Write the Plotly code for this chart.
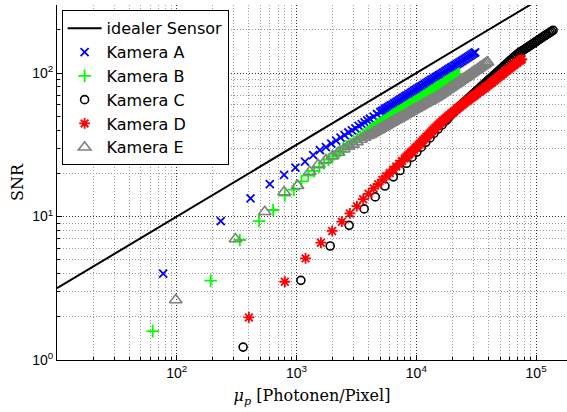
import plotly.graph_objects as go

# ---- data ----
ideal_mu = [10, 200000]
ideal_snr = [3.1623, 447.2]

camA_mu = [77, 233, 413, 598, 787, 978, 1176, 1377, 1567, 1760, 1950, 2140, 2330, 2520,
           2710, 2900, 3100, 3300, 3500, 3700, 3900, 4100, 4400, 4700,
           5000, 5150, 5300, 5460, 5620, 5790, 5960, 6140, 6330, 6520, 6710, 6910, 7120, 7330,
           7550, 7780, 8010, 8250, 8500, 8760, 9020, 9290, 9570, 9860, 10150, 10460, 10770,
           11090, 11430, 11770, 12120, 12490, 12860, 13250, 13640, 14050, 14470, 14910, 15360,
           15820, 16290, 16780, 17280, 17800, 18340, 18890, 19450, 20040, 20640, 21260, 21900,
           22550, 23230, 23920, 24640, 25380, 26140, 26930, 27730, 28570, 29420, 30300, 31000]
camA_snr = [4.0, 9.3, 13.4, 16.8, 19.5, 21.9, 24.1, 26.8, 29.0, 30.4, 32.2, 33.8, 35.5, 36.9,
            38.5, 39.9, 41.2, 42.8, 44.1, 45.3, 46.8, 48.0, 49.7, 51.8,
            53.4, 54.2, 55.0, 55.9, 56.8, 57.6, 58.5, 59.4, 60.3, 61.3, 62.2, 63.2, 64.1, 65.2,
            66.2, 67.3, 68.4, 69.5, 70.5, 71.6, 72.7, 73.9, 75.1, 76.4, 77.6, 78.7, 79.9,
            81.1, 82.3, 83.5, 84.9, 86.3, 87.7, 89.1, 90.4, 91.9, 93.2, 94.6, 96.1,
            97.5, 99.0, 100.7, 102.3, 103.9, 105.6, 107.2, 108.8, 110.4, 112.1, 113.7, 115.4,
            117.3, 119.2, 121.1, 123.1, 125.1, 127.1, 129.1, 131.2, 133.4, 135.5, 137.5, 139.1]

camB_mu = [63, 192, 336, 487, 638, 798, 948, 1100, 1250, 1400, 1550, 1700, 1850, 2000, 2150,
           2300, 2450, 2600, 2800, 3000, 3200, 3400, 3600, 3800,
           4000, 4120, 4240, 4370, 4500, 4640, 4780, 4920, 5070, 5220, 5380, 5540, 5710, 5880,
           6050, 6230, 6420, 6610, 6810, 7020, 7230, 7440, 7670, 7900, 8130, 8380, 8630, 8890,
           9150, 9430, 9710, 10000, 10300, 10610, 10930, 11260, 11600, 11940, 12300, 12670,
           13050, 13440, 13850, 14260, 14690, 15130, 15580, 16050, 16530, 17030, 17540, 18060,
           18610, 19160, 19740, 20330, 20940, 21570, 22220, 22700]
camB_snr = [1.59, 3.57, 6.86, 9.3, 11.1, 14.0, 15.4, 17.6, 19.3, 20.8, 22.2, 23.5, 24.9, 26.2,
            27.4, 28.5, 29.7, 30.8, 32.0, 33.3, 34.6, 35.8, 37.1, 38.3,
            39.3, 40.0, 40.6, 41.4, 42.2, 43.0, 43.7, 44.3, 44.8, 45.6, 46.4, 47.1, 47.9, 48.8,
            49.5, 50.4, 51.3, 52.0, 52.6, 53.6, 54.4, 55.0, 56.0, 56.8, 57.8, 58.7, 59.7, 60.6,
            61.3, 62.3, 63.3, 64.0, 65.0, 66.2, 67.2, 68.3, 69.5, 70.6, 71.7, 72.9,
            74.1, 75.3, 76.5, 77.8, 79.1, 79.9, 81.3, 82.6, 83.9, 85.3, 86.7, 88.0,
            89.3, 90.6, 92.0, 93.3, 94.7, 96.1, 97.5, 98.6]

camC_mu = [358, 1087, 1910, 2750, 3670, 4540, 5470, 6430, 7300, 8300, 9200, 10100, 11000,
           12000, 13000, 14000, 15200, 16400,
           17700, 18230, 18780, 19340, 19920, 20520, 21130, 21770, 22420, 23090, 23790, 24500,
           25240, 25990, 26770, 27580, 28400, 29260, 30130, 31040, 31970, 32930, 33920, 34930,
           35980, 37060, 38170, 39320, 40500, 41710, 42960, 44250, 45580, 46950, 48350, 49800,
           51300, 52840, 54420, 56050, 57740, 59470, 61250, 63090, 64980, 66930, 68940, 71010,
           72400, 74600, 76800, 79100, 81500, 83900, 86400, 89000, 91700, 94400, 97200,
           100100, 103100, 106200, 109400, 112700, 116100, 119600, 123200, 126900, 130700,
           134600, 138600]
camC_snr = [1.23, 3.59, 6.23, 8.68, 11.3, 13.7, 16.3, 18.9, 20.9, 23.5, 25.9, 28.1, 30.4,
            32.9, 35.3, 37.9, 40.7, 43.5,
            46.6, 47.9, 49.3, 50.8, 52.2, 53.4, 54.7, 56.1, 57.3, 58.7, 60.2, 61.5,
            62.9, 64.3, 65.8, 67.3, 68.8, 70.3, 72.0, 73.6, 75.3, 76.9, 78.8, 80.6,
            82.5, 84.3, 86.2, 88.2, 90.2, 92.1, 94.1, 96.3, 98.4, 100.8, 102.9, 105.3,
            107.6, 110.1, 112.4, 115.1, 117.7, 120.5, 123.0, 125.6, 128.5, 131.2, 133.9, 136.7,
            138.6, 140.9, 143.0, 145.4, 147.9, 150.5, 152.5, 155.1, 157.8, 160.4, 163.1,
            165.8, 168.6, 171.4, 174.3, 177.2, 180.2, 183.3, 186.0, 189.1, 192.0,
            195.2, 198.1]

camD_mu = [400, 798, 1189, 1596, 1983, 2388, 2786, 3190, 3600, 3990, 4400, 4800, 5200, 5600,
           6000, 6400, 6800, 7200, 7600,
           8000, 8240, 8490, 8740, 9000, 9270, 9550, 9840, 10130, 10440, 10750, 11070, 11400,
           11750, 12100, 12460, 12840, 13220, 13620, 14030, 14450, 14880, 15330, 15790, 16260,
           16750, 17250, 17770, 18300, 18850, 19420, 20000, 20600, 21220, 21850, 22510, 23180,
           23880, 24600, 25330, 26090, 26880, 27680, 28510, 29370, 30250, 31160, 32090, 33050,
           34040, 35070, 36120, 37200, 38320, 39470, 40650, 41870, 43130, 44420, 45750, 47130,
           48540, 50000, 51500, 53040, 54630, 56270, 57960, 59700, 61490, 63330, 65230, 67190,
           69210, 71280, 73420, 75000, 76000]
camD_snr = [1.98, 3.51, 5.11, 6.57, 7.93, 9.2, 10.5, 11.8, 13.2, 14.4, 15.7, 16.8, 18.0, 19.1,
            20.1, 21.2, 22.3, 23.3, 24.4,
            25.4, 26.0, 26.6, 27.2, 27.9, 28.5, 29.2, 30.0, 30.7, 31.5, 32.3, 33.1, 34.0,
            34.9, 35.8, 36.6, 37.6, 38.5, 39.6, 40.6, 41.6, 42.6, 43.6, 44.6, 45.6,
            46.7, 47.7, 48.8, 49.8, 50.8, 51.8, 52.9, 54.0, 55.1, 56.2, 57.3, 58.5,
            59.6, 60.9, 62.1, 63.3, 64.4, 65.7, 66.9, 68.0, 69.2, 70.6, 71.8, 73.3,
            74.5, 75.8, 77.4, 78.7, 80.3, 81.7, 83.3, 84.9, 86.6, 88.3, 90.0, 91.8,
            93.6, 95.5, 97.4, 99.3, 101.2, 103.2, 105.2, 107.3, 109.4, 111.5, 113.7, 115.9,
            117.9, 120.1, 122.2, 123.8, 124.9]

camE_mu = [98, 309, 543, 787, 1020, 1291, 1514, 1760, 2000, 2240, 2480, 2720, 2960, 3200,
           3450, 3700, 3950,
           4120, 4240, 4370, 4500, 4640, 4780, 4920, 5070, 5220, 5380, 5540, 5710, 5880,
           6050, 6230, 6420, 6610, 6810, 7020, 7230, 7440, 7670, 7900, 8130, 8380, 8630, 8890,
           9150, 9430, 9710, 10000, 10300, 10610, 10930, 11260, 11600, 11940, 12300, 12670,
           13050, 13440, 13850, 14260, 14690, 15130, 15580, 16050, 16530, 17030, 17540, 18060,
           18610, 19160, 19740, 20330, 20940, 21570, 22220, 22880, 23570, 24280, 25000, 25750,
           26530, 27320, 28140, 28990, 29860, 30750, 31670, 32620, 33600, 34610, 35650, 36720,
           37820, 38950, 39300]
camE_snr = [2.62, 6.97, 10.8, 14.8, 16.4, 20.5, 22.9, 24.8, 26.4, 27.9, 29.4, 30.8, 31.8, 33.1,
            34.4, 35.6, 36.5,
            37.2, 37.7, 38.3, 38.8, 39.4, 40.0, 40.5, 41.1, 41.7, 42.3, 42.9, 43.5, 44.2,
            44.7, 45.4, 46.0, 46.7, 47.3, 47.9, 48.6, 49.3, 50.0, 50.8, 51.4, 52.2, 53.0, 53.7,
            54.5, 55.3, 56.0, 56.7, 57.5, 58.3, 59.2, 60.1, 60.9, 61.7, 62.6, 63.4,
            64.2, 65.0, 65.9, 66.9, 67.9, 68.9, 70.0, 71.2, 72.4, 73.7, 75.0, 76.2,
            77.5, 78.9, 80.2, 81.6, 82.9, 84.3, 85.7, 87.1, 88.6, 90.1, 91.7, 93.2,
            94.8, 96.5, 98.1, 99.8, 101.6, 103.3, 105.0, 106.7, 108.5, 110.5, 112.3, 114.4,
            116.3, 118.4, 118.9]

for a, b in [(camA_mu, camA_snr), (camB_mu, camB_snr), (camC_mu, camC_snr),
             (camD_mu, camD_snr), (camE_mu, camE_snr)]:
    assert len(a) == len(b), (len(a), len(b))

legend_names = ["idealer Sensor", "Kamera A", "Kamera B", "Kamera C", "Kamera D", "Kamera E"]

x_major_vals = [100, 1000, 10000, 100000]
x_major_text = ["10<sup>2</sup>", "10<sup>3</sup>", "10<sup>4</sup>", "10<sup>5</sup>"]
y_major_vals = [1, 10, 100]
y_major_text = ["10<sup>0</sup>", "10<sup>1</sup>", "10<sup>2</sup>"]
minor_digits = [2, 3, 4, 5, 6, 7, 8, 9]
x_minor = [d * 10 ** e for e in range(1, 6) for d in minor_digits]
y_minor = [d * 10 ** e for e in range(0, 3) for d in minor_digits]

# ---- figure ----
fig = go.Figure()
fig.add_trace(go.Scatter(x=ideal_mu, y=ideal_snr, mode="lines", name=legend_names[0],
                         line=dict(color="black", width=2)))
fig.add_trace(go.Scatter(x=camA_mu, y=camA_snr, mode="markers", name=legend_names[1],
                         marker=dict(symbol="x-thin-open", size=8, color="#0000ff",
                                     line=dict(color="#0000ff", width=1.8))))
fig.add_trace(go.Scatter(x=camB_mu, y=camB_snr, mode="markers", name=legend_names[2],
                         marker=dict(symbol="cross-thin-open", size=9, color="#00ff00",
                                     line=dict(color="#00ff00", width=1.8))))
fig.add_trace(go.Scatter(x=camC_mu, y=camC_snr, mode="markers", name=legend_names[3],
                         marker=dict(symbol="circle-open", size=8, color="black",
                                     line=dict(color="black", width=1.6))))
fig.add_trace(go.Scatter(x=camD_mu, y=camD_snr, mode="markers", name=legend_names[4],
                         marker=dict(symbol="asterisk-open", size=9, color="#ff0000",
                                     line=dict(color="#ff0000", width=1.8))))
fig.add_trace(go.Scatter(x=camE_mu, y=camE_snr, mode="markers", name=legend_names[5],
                         marker=dict(symbol="triangle-up-open", size=11, color="#808080",
                                     line=dict(color="#808080", width=1.6))))

tickfont = dict(family="Liberation Sans, Arial, sans-serif", size=14, color="black")
fig.update_xaxes(type="log", range=[1, 5.258], showline=True, linecolor="black", linewidth=1,
                 mirror=False, ticks="inside", ticklen=5, tickcolor="black",
                 tickvals=x_major_vals, ticktext=x_major_text, tickfont=tickfont,
                 showgrid=True, gridcolor="#333333", griddash="1px,2px", gridwidth=1,
                 minor=dict(tickvals=x_minor, ticks="inside", ticklen=3, tickcolor="black",
                            showgrid=True, gridcolor="#9a9a9a", griddash="1px,2px", gridwidth=1),
                 zeroline=False,
                 title=dict(text="<i>μ</i><sub><i>p</i></sub> [Photonen/Pixel]",
                            font=dict(family="DejaVu Serif, serif", size=16, color="black"),
                            standoff=10))
fig.update_yaxes(type="log", range=[0, 2.474], showline=True, linecolor="black", linewidth=1,
                 mirror=False, ticks="inside", ticklen=5, tickcolor="black",
                 tickvals=y_major_vals, ticktext=y_major_text, tickfont=tickfont,
                 showgrid=True, gridcolor="#333333", griddash="1px,2px", gridwidth=1,
                 minor=dict(tickvals=y_minor, ticks="inside", ticklen=3, tickcolor="black",
                            showgrid=True, gridcolor="#9a9a9a", griddash="1px,2px", gridwidth=1),
                 zeroline=False,
                 title=dict(text="SNR", font=dict(family="DejaVu Serif, serif", size=16, color="black"),
                            standoff=4))

fig.update_layout(width=567, height=412, margin=dict(l=57, r=0, t=5, b=52),
                  paper_bgcolor="white", plot_bgcolor="white",
                  legend=dict(x=0.009, y=0.985, xanchor="left", yanchor="top",
                              bgcolor="white", bordercolor="black", borderwidth=1,
                              font=dict(family="DejaVu Sans, sans-serif", size=16, color="black"),
                              itemwidth=34, tracegroupgap=0),
                  showlegend=True)

fig.write_html("out.html")
